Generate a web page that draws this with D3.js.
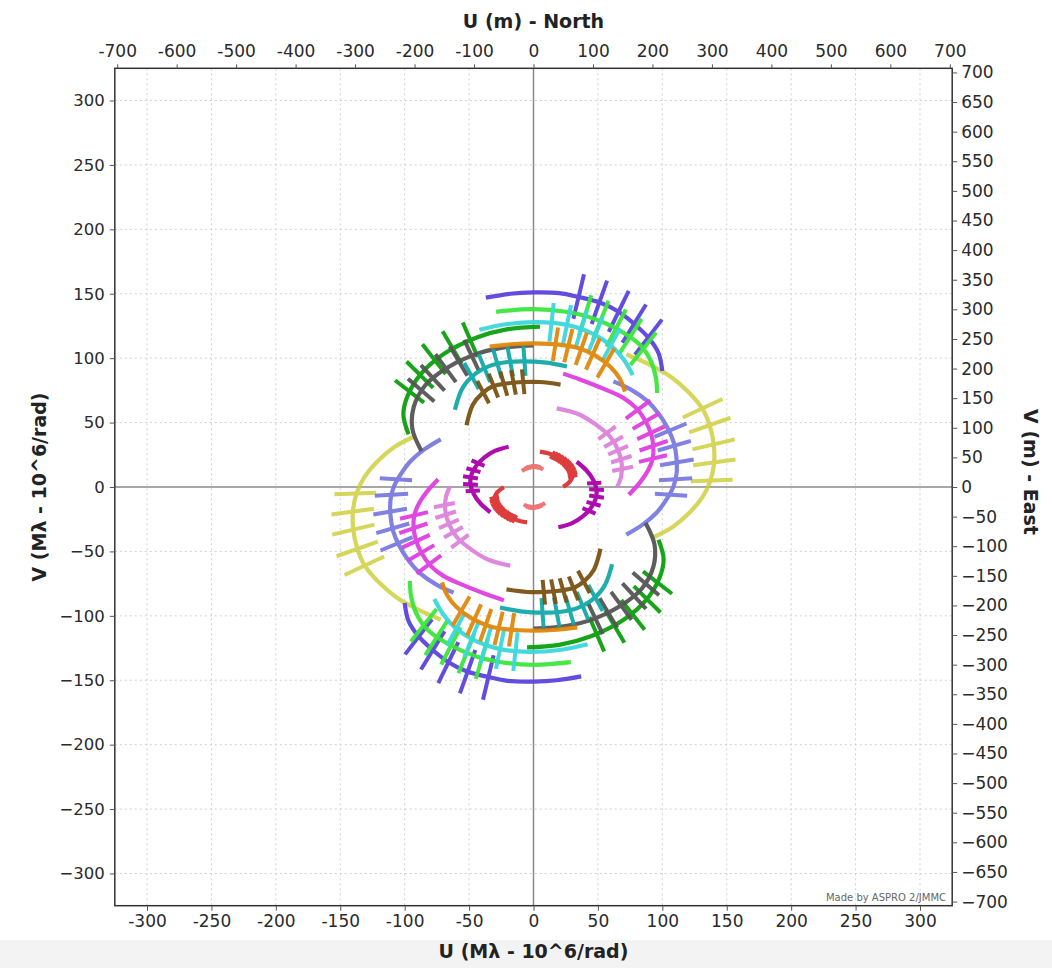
<!DOCTYPE html>
<html><head><meta charset="utf-8">
<script src="https://cdn.jsdelivr.net/npm/d3@7"></script>
<style>body{margin:0;background:#fff}</style>
</head><body>
<svg id="c" width="1052" height="968"></svg>
<script>
// ---- axis tick values ----
const mlTicks = [-300,-250,-200,-150,-100,-50,0,50,100,150,200,250,300];           // Mλ
const uMeterTicks = [-700,-600,-500,-400,-300,-200,-100,0,100,200,300,400,500,600,700];
const vMeterTicks = [700,650,600,550,500,450,400,350,300,250,200,150,100,50,0,-50,-100,-150,-200,-250,-300,-350,-400,-450,-500,-550,-600,-650,-700];

// ---- spectral extent of each observation (ratio to central wavelength) ----
const tickInner = 0.885;
const tickOuter = 1.12;

// ---- UV tracks (one half; the other half is the point-symmetric copy) [u, v] in Mλ ----
const arcYellow  = [[72,103],[90,95],[106,86],[120,74],[131,61],[137,47],[140,32],[140,17],[137,4],[131,-8],[121,-20],[108,-31],[93,-39]];
const obsYellow  = [[131,61],[136.5,48],[139.5,33],[140,19],[138,5]];
const arcPeri    = [[62,82],[75,76],[88,67],[97,57],[104,46],[109,34],[111,22],[111,10],[108.5,0],[103,-10],[95.5,-20],[85,-29],[72,-37]];
const obsPeri    = [[106,44],[109,32],[111,19],[110,6],[106.5,-6]];
const arcMagenta = [[23,88],[36,83.5],[55,76],[70,69],[80,61],[87,51],[91,42],[93,32],[92.5,22],[89,13],[83,4],[74,-6]];
const obsMagenta = [[81,60],[87,51],[91,42],[93,32],[92.5,22]];
const arcOrchid  = [[18,61],[35,56.5],[49,48],[59.5,39],[65.5,29],[68.5,18],[68,8],[65,0]];
const obsOrchid  = [[57,42],[62,35],[65.5,28.5],[68,21.5],[69,14]];
const arcBlue    = [[-37,147],[-18,150],[0,151],[20,150.5],[35,147.5],[52,143],[66,136],[80,125],[90,115],[97,104],[100,90]];
const obsBlue    = [[35,147.5],[51,143],[66,136],[78,126.5],[89,116]];
const arcGreen   = [[-29,136],[0,138],[25,136],[46,131],[66,122],[83,110],[91,98],[95,85],[96,73]];
const obsGreen   = [[40,133],[52,129],[64,123],[75,116.5],[85,107]];
const arcCyan    = [[-42,122],[-20,126.5],[3,128],[25,126],[45,119.5],[60,110],[70,99],[77,87]];
const obsCyan    = [[14,127.5],[26,126],[37,122.5],[48,118],[60,110]];
const arcOrange  = [[-34,109],[-15,111],[0,111.5],[20,110.5],[34,108],[48,102],[60,93],[67,84],[71,74]];
const obsOrange  = [[17,110.5],[27,109.5],[37,107],[46,103],[56,96]];
const arcDGreen  = [[5,124.5],[-20,122.5],[-44,116],[-70,103],[-88,87],[-98,70],[-101,56],[-97,41]];
const obsDGreen  = [[-49,114],[-63,108],[-77,99],[-88,87],[-96,74]];
const arcGray    = [[0,110],[-25,108],[-48,102],[-68,92],[-84,79],[-93,62],[-94,45],[-87,28]];
const obsGray    = [[-48,102],[-58,97.5],[-68,92],[-78,84.5],[-87,75]];
const arcTeal    = [[-61,60],[-55,77],[-45,88],[-34,94],[-20,97],[-8,97.5],[10,96.5],[26,93.5]];
const obsTeal    = [[-7,97.5],[-18,97],[-28,95.5],[-38,92],[-48,86]];
const arcBrown   = [[-52,48],[-47,64],[-40,72.5],[-32,78],[-20,80.5],[-8,81.5],[5,81.5],[21,79.5]];
const obsBrown   = [[-8,81.5],[-15.5,81],[-23,80],[-31,78.5],[-39,73.5]];
const arcPurple  = [[33.5,19.6],[41,13],[46.4,5.4],[49,-3],[48,-10],[44,-17],[38,-23],[30,-28],[19.3,-31.3]];
const obsPurple  = [[47,3],[48.8,-2],[48.8,-7.5],[46.5,-13],[43,-18.5]];
const arcRed     = [[5,27.5],[12,26],[18,23.5],[24,19.5],[28.5,15],[30.5,10],[28,4],[23,0.2]];
const obsRed     = [[15,24.5],[17,23.8],[19,22.8],[21,21.5],[23,20.3],[25,18.6],[26.5,17],[28,15.2],[29.3,13],[30.2,10.5],[30.3,8.5]];
const arcSalmon  = [[-9,12.5],[-4.5,15],[0,15.8],[4,15.5],[7.5,13.5]];
const obsSalmon  = [[-5,14.6],[-3.5,15.2],[-2,15.5],[-0.5,15.8],[1,15.8],[2.5,15.6],[4,15.3]];

const tracks = [
  {arc: arcYellow,  obs: obsYellow,  color: "#cccc33", op: 0.8},
  {arc: arcPeri,    obs: obsPeri,    color: "#7b7be0", op: 0.95},
  {arc: arcMagenta, obs: obsMagenta, color: "#e03ee0", op: 0.95},
  {arc: arcOrchid,  obs: obsOrchid,  color: "#dd82dd", op: 0.95},
  {arc: arcDGreen,  obs: obsDGreen,  color: "#0ca00c", op: 0.95},
  {arc: arcGray,    obs: obsGray,    color: "#555555", op: 0.95},
  {arc: arcBlue,    obs: obsBlue,    color: "#5a45dc", op: 0.95},
  {arc: arcGreen,   obs: obsGreen,   color: "#3ce63c", op: 0.95},
  {arc: arcCyan,    obs: obsCyan,    color: "#3cd8dc", op: 0.95},
  {arc: arcOrange,  obs: obsOrange,  color: "#e0880c", op: 0.95},
  {arc: arcTeal,    obs: obsTeal,    color: "#14a8a8", op: 0.95},
  {arc: arcBrown,   obs: obsBrown,   color: "#7a5212", op: 0.95},
  {arc: arcPurple,  obs: obsPurple,  color: "#aa00aa", op: 0.95},
  {arc: arcRed,     obs: obsRed,     color: "#dd3333", op: 0.95},
  {arc: arcSalmon,  obs: obsSalmon,  color: "#f07070", op: 0.95}
];

// ---- layout ----
const svg = d3.select("#c");
const L = 114.8, R = 952.2, T = 68.3, B = 905.7;
const x = d3.scaleLinear().domain([-325,325]).range([L,R]);
const y = d3.scaleLinear().domain([-325,325]).range([B,T]);
const xm = d3.scaleLinear().domain([-704,704]).range([L,R]);
const ym = d3.scaleLinear().domain([-707,707]).range([B,T]);

svg.append("rect").attr("x",0).attr("y",0).attr("width",1052).attr("height",968).attr("fill","#ffffff");
svg.append("rect").attr("x",0).attr("y",940).attr("width",1052).attr("height",28).attr("fill","#f3f3f3");

// grid
const grid = svg.append("g");
grid.selectAll("line.gx").data(mlTicks.filter(d=>d!==0)).enter().append("line")
  .attr("x1",d=>x(d)).attr("x2",d=>x(d)).attr("y1",T).attr("y2",B)
  .attr("stroke","#d0d0d0").attr("stroke-width",1).attr("stroke-dasharray","2,3");
grid.selectAll("line.gy").data(mlTicks.filter(d=>d!==0)).enter().append("line")
  .attr("y1",d=>y(d)).attr("y2",d=>y(d)).attr("x1",L).attr("x2",R)
  .attr("stroke","#d0d0d0").attr("stroke-width",1).attr("stroke-dasharray","2,3");
// zero lines
svg.append("line").attr("x1",x(0)).attr("x2",x(0)).attr("y1",T).attr("y2",B).attr("stroke","#8a8a8a").attr("stroke-width",1.5);
svg.append("line").attr("y1",y(0)).attr("y2",y(0)).attr("x1",L).attr("x2",R).attr("stroke","#8a8a8a").attr("stroke-width",1.5);

// tracks
const line = d3.line().x(d=>x(d[0])).y(d=>y(d[1])).curve(d3.curveCatmullRom);
const plot = svg.append("g");
tracks.forEach(t => {
  const g = plot.append("g").attr("opacity", t.op);
  [1,-1].forEach(s => {
    const pts = t.arc.map(p => [s*p[0], s*p[1]]);
    g.append("path").attr("d", line(pts)).attr("fill","none")
      .attr("stroke", t.color).attr("stroke-width", 4.2).attr("stroke-linecap","butt");
    g.selectAll(null).data(t.obs.map(p => [s*p[0], s*p[1]])).enter().append("line")
      .attr("x1", d => x(d[0]*tickInner)).attr("y1", d => y(d[1]*tickInner))
      .attr("x2", d => x(d[0]*tickOuter)).attr("y2", d => y(d[1]*tickOuter))
      .attr("stroke", t.color).attr("stroke-width", 4);
  });
});

// frame
svg.append("rect").attr("x",L).attr("y",T).attr("width",R-L).attr("height",B-T)
  .attr("fill","none").attr("stroke","#333").attr("stroke-width",1.5);

const minus = d => d < 0 ? "\u2212" + Math.abs(d) : String(d);
const hyph = d => d < 0 ? "-" + Math.abs(d) : String(d);

function styleAxis(g, size) {
  g.select(".domain").remove();
  g.selectAll(".tick line").attr("stroke","#555");
  g.selectAll("text").attr("font-family", "DejaVu Sans").attr("font-size", size).attr("fill", "#2a2a2a");
}

const axL = svg.append("g").attr("transform",`translate(${L},0)`)
  .call(d3.axisLeft(y).tickValues(mlTicks).tickSize(5).tickPadding(5).tickFormat(minus));
styleAxis(axL, 16.5);
const axB = svg.append("g").attr("transform",`translate(0,${B})`)
  .call(d3.axisBottom(x).tickValues(mlTicks).tickSize(5).tickPadding(4).tickFormat(hyph));
styleAxis(axB, 17);
const axT = svg.append("g").attr("transform",`translate(0,${T})`)
  .call(d3.axisTop(xm).tickValues(uMeterTicks).tickSize(4).tickPadding(7).tickFormat(hyph));
styleAxis(axT, 17);
const axR = svg.append("g").attr("transform",`translate(${R},0)`)
  .call(d3.axisRight(ym).tickValues(vMeterTicks).tickSize(5).tickPadding(4).tickFormat(minus));
styleAxis(axR, 17);

// titles
const titleFont = t => t.attr("font-family","DejaVu Sans").attr("font-weight","bold").attr("font-size",19).attr("fill","#222").attr("text-anchor","middle");
svg.append("text").attr("x",533.5).attr("y",28).call(titleFont).text("U (m) - North");
svg.append("text").attr("x",533.5).attr("y",958).call(titleFont).text("U (M\u03BB - 10^6/rad)");
svg.append("text").attr("transform","translate(46,487) rotate(-90)").call(titleFont).text("V (M\u03BB - 10^6/rad)");
svg.append("text").attr("transform","translate(1024,472) rotate(90)").call(titleFont).text("V (m) - East");
svg.append("text").attr("x",946).attr("y",901).attr("text-anchor","end")
  .attr("font-family","DejaVu Sans").attr("font-size",10).attr("fill","#666")
  .text("Made by ASPRO 2/JMMC");
</script>
</body></html>
